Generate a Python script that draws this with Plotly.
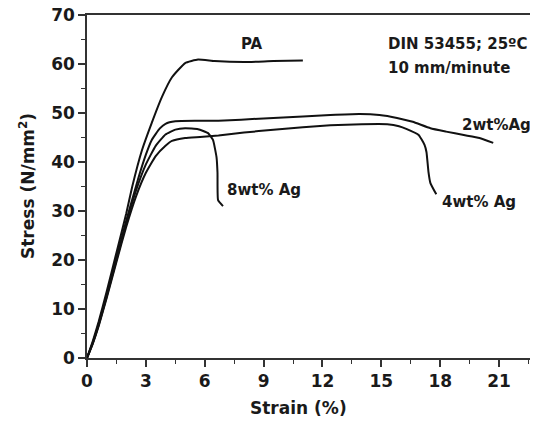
import plotly.graph_objects as go

# Strain (%) / Stress (N/mm^2) readings
pa_x = [0, 0.3, 0.6, 1.0, 1.5, 2.0, 2.3, 2.8, 3.3, 3.82, 4.33, 5.0, 5.66, 6.5, 8.0, 9.5, 11.0]
pa_y = [0, 3.5, 7.5, 13.5, 21.5, 29.5, 34.9, 42.4, 48.0, 53.3, 57.3, 60.2, 60.9, 60.6, 60.4, 60.6, 60.7]

ag2_x = [0, 0.3, 0.6, 1.0, 1.5, 2.0, 2.6, 3.0, 3.3, 3.7, 4.0, 4.5, 5.5, 6.7, 9.0, 11.0, 12.4, 13.9, 14.9, 15.8, 16.6, 17.5, 18.3, 19.2, 20.0, 20.7]
ag2_y = [0, 3.2, 7.0, 12.8, 20.5, 28.0, 36.5, 41.5, 44.5, 46.8, 47.8, 48.3, 48.4, 48.4, 48.9, 49.3, 49.6, 49.8, 49.6, 49.0, 48.2, 46.9, 46.2, 45.5, 44.9, 43.9]

ag4_x = [0, 0.3, 0.6, 1.0, 1.5, 2.0, 2.5, 3.0, 3.5, 4.0, 4.33, 5.0, 5.76, 6.7, 8.0, 9.5, 11.0, 12.4, 14.0, 15.3, 15.9, 16.3, 16.9, 17.2, 17.3, 17.4, 17.5, 17.8]
ag4_y = [0, 3.0, 6.6, 12.2, 19.6, 26.8, 33.0, 37.8, 41.2, 43.3, 44.3, 44.9, 45.1, 45.4, 46.0, 46.6, 47.1, 47.5, 47.7, 47.7, 47.3, 46.7, 45.5, 43.5, 42.0, 38.0, 35.7, 33.4]

ag8_x = [0, 0.3, 0.6, 1.0, 1.5, 2.0, 2.5, 3.0, 3.5, 4.0, 4.5, 5.0, 5.66, 6.17, 6.42, 6.6, 6.65, 6.68, 6.93]
ag8_y = [0, 3.1, 6.8, 12.5, 20.0, 27.5, 34.2, 39.5, 43.3, 45.6, 46.6, 46.9, 46.7, 45.9, 44.5, 41.0, 37.8, 32.2, 31.0]

x_ticks = [0, 3, 6, 9, 12, 15, 18, 21]
y_ticks = [0, 10, 20, 30, 40, 50, 60, 70]

labels = ["PA", "2wt%Ag", "4wt% Ag", "8wt% Ag"]
label_x = [7.75, 19.0, 18.0, 7.03]
label_y = [64.1, 47.6, 31.8, 34.3]

FONT = "DejaVu Sans"
TXT = "#1a1a1a"
OFF = 8  # page body margin

fig = go.Figure()
for xs, ys in [(pa_x, pa_y), (ag2_x, ag2_y), (ag4_x, ag4_y), (ag8_x, ag8_y)]:
    fig.add_trace(go.Scatter(x=xs, y=ys, mode="lines",
                             line=dict(color="#111111", width=2, shape="spline", smoothing=0.4),
                             showlegend=False, hoverinfo="skip"))

for t, lx, ly in zip(labels, label_x, label_y):
    fig.add_annotation(x=lx, y=ly, text="<b>%s</b>" % t, showarrow=False, xanchor="left", yanchor="middle",
                       font=dict(family=FONT, size=15, color=TXT))

# plot area on the page: x 87..536, y 15..358
def px_x(p):
    return (p - 87) / (536 - 87)

def px_y(p):
    return (358 - p) / (358 - 15)

fig.add_annotation(xref="paper", yref="paper", x=px_x(386), y=px_y(44), text="<b>DIN 53455; 25ºC</b>",
                   showarrow=False, xanchor="left", yanchor="middle", font=dict(family=FONT, size=15, color=TXT))
fig.add_annotation(xref="paper", yref="paper", x=px_x(386), y=px_y(68), text="<b>10 mm/minute</b>",
                   showarrow=False, xanchor="left", yanchor="middle", font=dict(family=FONT, size=15, color=TXT))

# axis titles
fig.add_annotation(xref="paper", yref="paper", x=px_x(298), y=px_y(408), text="<b>Strain (%)</b>",
                   showarrow=False, xanchor="center", yanchor="middle", font=dict(family=FONT, size=17, color=TXT))
fig.add_annotation(xref="paper", yref="paper", x=px_x(27), y=px_y(186), text="<b>Stress (N/mm<sup>2</sup>)</b>",
                   textangle=-90, showarrow=False, xanchor="center", yanchor="middle",
                   font=dict(family=FONT, size=17, color=TXT))

axis_common = dict(showgrid=False, zeroline=False, showline=True, linecolor="#333333", linewidth=1.5,
                   mirror=True, ticks="outside", ticklen=7, tickwidth=1.5, tickcolor="#333333",
                   automargin=False, ticklabeloverflow="allow",
                   tickfont=dict(family=FONT, size=17, color=TXT))

fig.update_xaxes(range=[0, 22.88], tickvals=x_ticks, ticktext=["<b>%d</b>" % v for v in x_ticks],
                 minor=dict(dtick=1.5, tick0=0, ticks="outside", ticklen=4, tickwidth=1.2, tickcolor="#333333"),
                 **axis_common)
fig.update_yaxes(range=[0, 70], tickvals=y_ticks, ticktext=["<b>%d</b>" % v for v in y_ticks],
                 minor=dict(dtick=5, tick0=0, ticks="outside", ticklen=4, tickwidth=1.2, tickcolor="#333333"),
                 **axis_common)

fig.update_layout(width=538 - OFF, height=422 - OFF,
                  margin=dict(l=87 - OFF, r=2, t=15 - OFF, b=64, autoexpand=False),
                  plot_bgcolor="white", paper_bgcolor="white")

fig.write_html("out.html")
